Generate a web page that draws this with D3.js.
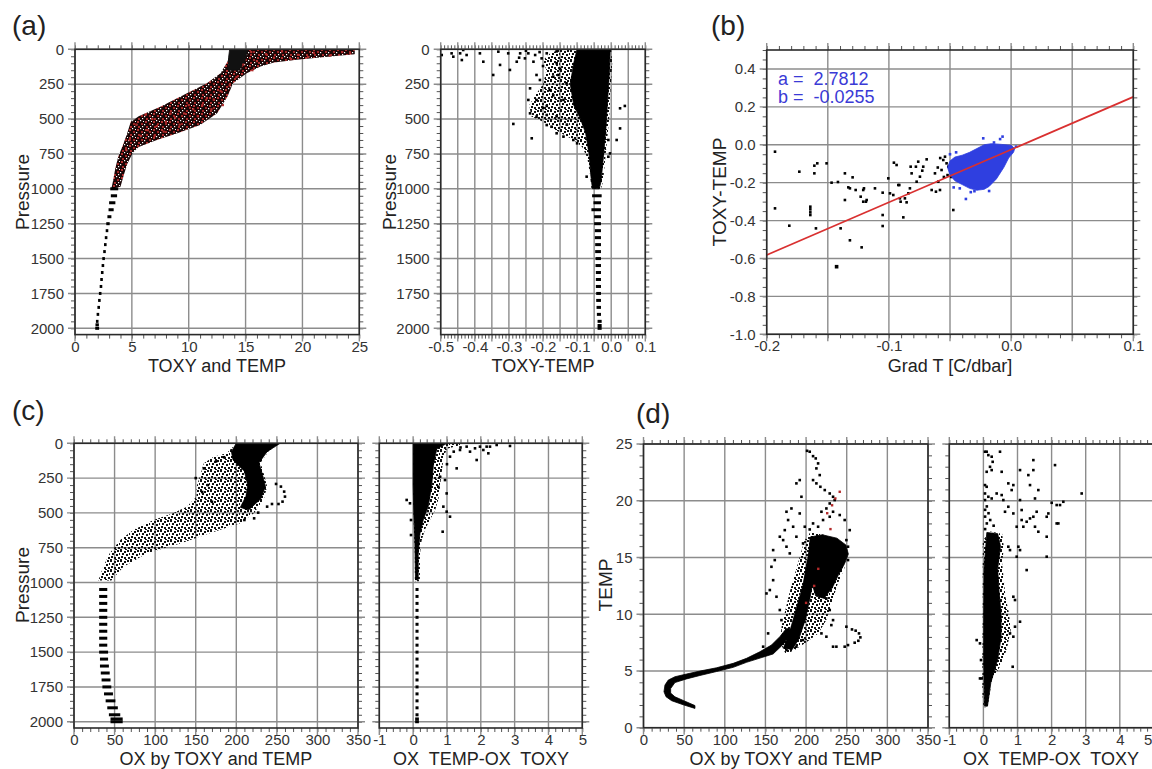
<!DOCTYPE html>
<html><head><meta charset="utf-8">
<script src="https://cdn.jsdelivr.net/npm/d3@7"></script>
<style>
body{margin:0;background:#fff;}
svg text{font-family:"Liberation Sans",Arial,sans-serif;}
</style></head><body>
<script>
// ---------------- tick labels ----------------
const pressureTickValues = [0,250,500,750,1000,1250,1500,1750,2000];
const pressureTickLabels = ["0","250","500","750","1000","1250","1500","1750","2000"];
const toxyTempTickValues = [0,5,10,15,20,25];
const toxyTempTickLabels = ["0","5","10","15","20","25"];
const diffTickValues = [-0.5,-0.4,-0.3,-0.2,-0.1,0,0.1];
const diffTickLabels = ["-0.5","-0.4","-0.3","-0.2","-0.1","0.0","0.1"];
const gradTickValues = [-0.2,-0.1,0,0.1];
const gradTickLabels = ["-0.2","-0.1","0.0","0.1"];
const bYTickValues = [0.4,0.2,0,-0.2,-0.4,-0.6,-0.8,-1.0];
const bYTickLabels = ["0.4","0.2","0.0","-0.2","-0.4","-0.6","-0.8","-1.0"];
const oxTickValues = [0,50,100,150,200,250,300,350];
const oxTickLabels = ["0","50","100","150","200","250","300","350"];
const ratioTickValues = [-1,0,1,2,3,4,5];
const ratioTickLabels = ["-1","0","1","2","3","4","5"];
const tempTickValues = [0,5,10,15,20,25];
const tempTickLabels = ["0","5","10","15","20","25"];

// ---------------- (a) left: TOXY and TEMP vs Pressure ----------------
const aLeftDeep = [[1000,3.1,3.8],[1050,3.15,3.7],[1100,3.0,3.55],[1150,2.95,3.4],[1200,2.85,3.2],[1250,2.75,3.05],[1300,2.7,2.9],[1350,2.62,2.74],[1400,2.55,2.67],[1450,2.48,2.6],[1500,2.4,2.52],[1550,2.34,2.46],[1600,2.28,2.4],[1650,2.22,2.34],[1700,2.17,2.29],[1750,2.1,2.22],[1800,2.03,2.15],[1850,1.97,2.09],[1900,1.9,2.02],[1950,1.84,1.96],[1975,1.8,2.1],[2000,1.78,2.12]];
const aLeftCloud = [[13.6,0],[24.6,0],[24.6,35],[22,55],[19.5,75],[17.5,95],[16.3,124],[15.1,172],[13.9,244],[13.4,340],[12.5,459],[11.0,543],[9.0,602],[7.2,650],[5.6,700],[5.1,740],[4.6,820],[4.3,900],[4.0,985],[3.2,1000],[3.35,940],[3.55,850],[3.8,770],[4.2,690],[4.6,600],[4.9,520],[5.6,480],[7.5,411],[9.8,316],[11.6,244],[12.8,172],[13.4,90],[13.6,40]];
const aLeftCore = [[13.6,0],[15.2,0],[14.9,100],[14.4,150],[13.5,150],[13.5,60]];
const aLeftRed = [[15.5,20],[16.8,35],[18.2,15],[19.6,40],[21,25],[22.4,45],[23.5,20],[24.2,30],[17.5,60],[19,70],[20.5,55],[16,85],[14.8,110],[15.6,150],[14.2,200],[13.6,260],[12.8,300],[12.2,360],[11.2,400],[10.4,430],[9.6,460],[8.8,490],[8.0,520],[7.2,550],[6.4,580],[5.8,620],[6.8,500],[8.4,460],[10.0,400],[11.6,350],[9.2,540],[7.8,590],[6.2,470],[5.4,540],[4.8,650],[4.5,720],[10.8,480],[12.0,430],[13.0,400],[7.0,620]];

// ---------------- (a) right: TOXY-TEMP vs Pressure ----------------
const aRightOuter = [[-0.18,30],[-0.15,0],[0.0,0],[0.003,100],[-0.002,300],[-0.006,500],[-0.012,650],[-0.018,800],[-0.024,950],[-0.03,1000],[-0.058,1000],[-0.062,900],[-0.07,780],[-0.085,700],[-0.11,650],[-0.14,610],[-0.17,570],[-0.2,520],[-0.235,480],[-0.24,400],[-0.22,320],[-0.2,250],[-0.19,150],[-0.2,80]];
const aRightCore = [[-0.1,0],[-0.003,0],[-0.005,150],[-0.01,350],[-0.015,550],[-0.022,750],[-0.03,950],[-0.035,1000],[-0.055,1000],[-0.06,900],[-0.065,750],[-0.075,600],[-0.09,500],[-0.11,400],[-0.12,250],[-0.11,100]];
const aRightDeep = [[1050,-0.056,-0.028],[1100,-0.052,-0.03],[1150,-0.058,-0.03],[1200,-0.05,-0.03],[1250,-0.05,-0.03],[1300,-0.048,-0.03],[1350,-0.048,-0.03],[1400,-0.047,-0.03],[1450,-0.047,-0.03],[1500,-0.046,-0.03],[1550,-0.046,-0.03],[1600,-0.045,-0.03],[1650,-0.045,-0.03],[1700,-0.045,-0.03],[1750,-0.044,-0.03],[1800,-0.044,-0.03],[1850,-0.043,-0.03],[1900,-0.042,-0.03],[1950,-0.04,-0.028],[1980,-0.04,-0.028],[2000,-0.04,-0.028]];
const aRightPts = [[-0.497,41],[-0.468,29],[-0.463,53],[-0.443,29],[-0.438,77],[-0.434,5],[-0.424,41],[-0.385,29],[-0.375,89],[-0.346,184],[-0.331,17],[-0.326,112],[-0.302,29],[-0.297,148],[-0.277,89],[-0.267,29],[-0.253,65],[-0.243,29],[-0.228,89],[-0.223,41],[-0.204,65],[-0.189,29],[-0.219,184],[-0.209,220],[-0.238,280],[-0.243,363],[-0.238,459],[-0.219,483],[-0.189,406],[-0.189,471],[-0.175,555],[-0.16,602],[-0.14,626],[-0.111,650],[-0.18,292],[-0.17,196],[-0.155,184],[-0.131,244],[-0.14,363],[-0.219,363],[-0.287,535],[-0.233,638],[-0.189,543],[-0.1,674],[-0.072,913],[-0.0084,770],[-0.0035,746],[0.016,650],[0.026,567],[0.026,423],[0.04,406],[-0.0084,650],[-0.018,602],[-0.16,100],[-0.15,140],[-0.2,120],[-0.17,330],[-0.2,420],[-0.16,480],[-0.13,540],[-0.25,10],[-0.27,60],[-0.21,20],[-0.16,15]];

// ---------------- (b): Grad T vs TOXY-TEMP ----------------
const fitA = 2.7812, fitB = -0.0255;
const fitLineX = [-0.2, 0.1];
const bBlackPts = [[-0.1932,-0.0365],[-0.1932,-0.3355],[-0.1815,-0.427],[-0.1733,-0.142],[-0.161,-0.1508],[-0.161,-0.1103],[-0.1586,-0.098],[-0.151,-0.098],[-0.1643,-0.3267],[-0.1643,-0.3408],[-0.1643,-0.3566],[-0.1643,-0.3707],[-0.1597,-0.441],[-0.1469,-0.2],[-0.1417,-0.1965],[-0.136,-0.1508],[-0.1395,-0.441],[-0.136,-0.2915],[-0.1319,-0.5041],[-0.1332,-0.2247],[-0.1297,-0.1719],[-0.1319,-0.2299],[-0.1223,-0.5413],[-0.1272,-0.2387],[-0.1231,-0.2739],[-0.121,-0.3003],[-0.1188,-0.3003],[-0.121,-0.2387],[-0.1182,-0.2915],[-0.1204,-0.2299],[-0.1114,-0.2299],[-0.1005,-0.1772],[-0.1051,-0.2528],[-0.1051,-0.3707],[-0.1051,-0.4287],[-0.0991,-0.2563],[-0.0964,-0.2651],[-0.0959,-0.0945],[-0.0937,-0.1068],[-0.0923,-0.2124],[-0.0915,-0.2124],[-0.091,-0.2827],[-0.0904,-0.3003],[-0.0869,-0.2827],[-0.0855,-0.3038],[-0.0882,-0.383],[-0.0841,-0.2563],[-0.0828,-0.2299],[-0.0822,-0.1156],[-0.0814,-0.1508],[-0.0779,-0.1156],[-0.076,-0.0892],[-0.0746,-0.1684],[-0.0773,-0.1948],[-0.0727,-0.1367],[-0.0719,-0.1156],[-0.0691,-0.0769],[-0.0623,-0.1508],[-0.065,-0.2387],[-0.0615,-0.2475],[-0.0582,-0.2387],[-0.0596,-0.1948],[-0.0569,-0.1332],[-0.0555,-0.0804],[-0.0541,-0.0628],[-0.0528,-0.098],[-0.0514,-0.1156],[-0.0487,-0.1332],[-0.0473,-0.3443],[-0.058,-0.07],[-0.052,-0.16],[-0.049,-0.17],[-0.047,-0.09],[-0.055,-0.17],[-0.06,-0.12]];
const bBigPt = [[-0.1428,-0.6433]];
const bBlueCloud = [[0.003,-0.02],[0.0,-0.003],[-0.008,0.002],[-0.016,0.006],[-0.022,0.0],[-0.028,-0.02],[-0.034,-0.04],[-0.040,-0.055],[-0.046,-0.065],[-0.050,-0.085],[-0.052,-0.12],[-0.050,-0.16],[-0.046,-0.19],[-0.040,-0.21],[-0.034,-0.23],[-0.028,-0.24],[-0.022,-0.235],[-0.018,-0.22],[-0.012,-0.18],[-0.006,-0.12],[-0.002,-0.07],[0.002,-0.04]];
const bBluePts = [[-0.0228,0.034],[-0.007,0.043],[-0.009,0.03],[-0.037,-0.286],[-0.018,-0.244],[-0.033,-0.25],[-0.047,-0.225],[-0.03,-0.245],[-0.042,-0.23],[-0.05,-0.05],[-0.045,-0.04],[-0.014,0.012],[0.004,-0.01]];

// ---------------- (c) left: OX by TOXY and TEMP vs Pressure ----------------
const cLeftDeep = [[1050,31,41],[1100,31,41],[1150,31,41],[1200,31,41],[1250,31,41],[1300,31,41],[1350,31,41],[1400,31,41],[1450,31,41],[1500,31,42],[1550,32,42],[1600,32,43],[1650,33,44],[1700,34,45],[1750,35,46],[1800,37,48],[1850,39,51],[1900,41,54],[1950,43,57],[1980,45,60],[2000,45,60]];
const cLeftOuter = [[198,0],[254,0],[240,55],[230,140],[234,220],[238,310],[234,400],[222,500],[205,575],[170,640],[131,719],[90,790],[61,886],[46,985],[30,985],[36,886],[44,790],[57,695],[73,623],[98,551],[122,503],[139,455],[151,383],[151,312],[155,240],[160,144],[172,96],[188,72],[196,24]];
const cLeftCore = [[200,0],[254,0],[238,60],[228,140],[232,220],[236,310],[230,400],[215,480],[205,460],[212,380],[214,300],[210,200],[196,120],[194,60]];
const cLeftPts = [[249,292],[255,311],[259,347],[260,383],[257,419],[252,436],[238,455],[244,436],[227,498],[222,539],[210,551],[165,300],[158,350],[170,420],[150,250],[160,180],[175,130],[185,100]];

// ---------------- (c) right: OX TEMP - OX TOXY vs Pressure ----------------
const cRightOuter = [[0.0,0],[1.5,0],[1.3,20],[1.0,40],[0.9,100],[0.85,200],[0.8,300],[0.75,400],[0.65,480],[0.5,550],[0.35,620],[0.25,700],[0.2,800],[0.2,900],[0.2,990],[0.05,990],[0.05,800],[0.02,600],[0.0,400]];
const cRightCore = [[0,0],[1.0,0],[0.7,40],[0.6,150],[0.55,300],[0.45,450],[0.3,550],[0.2,650],[0.15,800],[0.15,980],[0.07,980],[0.05,700],[0.02,500],[0,300]];
const cRightDeep = [[1050,0.07,0.16],[1100,0.07,0.16],[1150,0.07,0.16],[1200,0.07,0.16],[1250,0.07,0.16],[1300,0.07,0.16],[1350,0.07,0.16],[1400,0.07,0.16],[1450,0.07,0.16],[1500,0.07,0.16],[1550,0.07,0.16],[1600,0.07,0.16],[1650,0.07,0.16],[1700,0.07,0.16],[1750,0.07,0.16],[1800,0.07,0.16],[1850,0.07,0.16],[1900,0.07,0.16],[1950,0.07,0.16],[1980,0.06,0.17],[2000,0.06,0.17]];
const cRightPts = [[1.385,48],[1.582,24],[1.681,60],[1.829,36],[1.976,24],[2.075,48],[2.173,24],[2.223,72],[2.272,24],[2.469,12],[2.863,19],[1.878,120],[1.287,180],[1.09,96],[0.942,264],[0.991,360],[0.893,455],[0.991,491],[1.09,527],[0.873,635],[-0.191,407],[-0.093,431],[-0.063,551],[-0.063,659],[0.745,312],[0.794,240],[1.2,60],[1.4,30],[1.0,150]];

// ---------------- (d) left: OX by TOXY and TEMP vs TEMP ----------------
const dLeftSpine = [[175.9,8.75],[167.7,8.02],[157.4,7.28],[143.1,6.69],[126.7,6.11],[110.4,5.67],[89.9,5.28],[69.4,4.99],[53.0,4.73],[38.7,4.49],[30.5,4.2],[26.4,3.76],[25.2,3.17],[27.7,2.73],[34.6,2.38],[48.9,2.02],[63.3,1.7],[63.3,1.95],[48.9,2.4],[38.7,2.72],[33.4,3.05],[33.4,3.45],[38.7,3.98],[53.0,4.3],[69.4,4.6],[89.9,4.95],[110.4,5.32],[126.7,5.76],[159.5,6.5],[169.7,7.2],[177.9,7.95],[184.0,8.6]];
const dLeftOuter = [[168,7.5],[170,9],[175,10.5],[180,12],[186,13.5],[192,15],[198,16.5],[205,17.2],[222,17.0],[240,16.3],[250,15.6],[247,14],[238,12.5],[232,11],[225,9.5],[215,8.3],[200,7.5],[185,6.8],[175,6.5]];
const dLeftBand = [[172,7.0],[180,8.5],[188,10.5],[196,12.5],[201,14.5],[205,16.0],[212,15.5],[210,13.5],[205,11.5],[199,9.5],[191,7.8],[183,6.9]];
const dLeftBlob = [[205,16.8],[220,17.0],[238,16.7],[249,16.1],[252,15.3],[247,14.4],[240,13.5],[232,12.3],[222,11.4],[212,11.6],[206,13.0],[203,15.0]];
const dLeftPts = [[201.2,24.4],[204.5,24.32],[208.6,23.93],[211.9,23.73],[214.8,23.29],[212.7,22.85],[216.8,22.26],[208.6,21.82],[212.7,21.53],[217.6,21.23],[223.0,20.94],[229.1,20.64],[233.2,20.35],[235.2,20.06],[229.1,19.76],[225.0,19.32],[218.9,19.03],[233.2,19.03],[241.4,18.74],[229.1,18.59],[220.9,18.3],[208.6,18.0],[214.8,17.71],[204.5,17.47],[198.4,17.71],[192.2,21.82],[188.1,21.53],[194.3,20.35],[192.2,18.88],[182.0,19.32],[175.9,19.03],[177.9,18.3],[184.1,17.71],[173.8,17.41],[167.7,16.83],[171.8,16.53],[175.9,15.95],[179.96,15.36],[188.1,16.83],[196.3,16.24],[159.5,15.65],[161.5,14.77],[157.4,14.18],[159.5,13.0],[155.4,12.13],[163.6,11.54],[151.3,11.83],[167.7,10.37],[169.7,9.48],[153.3,8.31],[147.2,7.14],[159.5,6.84],[167.7,7.28],[175.9,6.84],[188.1,7.14],[196.3,7.72],[225.0,11.39],[229.1,10.37],[233.2,9.48],[231.1,9.04],[218.9,8.31],[225.0,8.02],[233.2,7.14],[237.3,7.14],[247.5,7.14],[251.6,7.28],[249.6,8.9],[249.6,16.53],[251.6,15.95],[253.7,17.41],[247.5,18.3],[251.6,14.77],[256.5,8.66],[261.0,8.55],[265.1,8.31],[266.8,7.96],[264.3,7.66],[259.8,7.49]];
const dLeftRed = [[241.4,20.79],[232,19.6],[226,18.9],[236,20.2],[210,12.5],[200,11],[215,14],[230,17.5]];

// ---------------- (d) right: OX TEMP - OX TOXY vs TEMP ----------------
const dRightOuter = [[0.0,1.8],[0.12,1.8],[0.25,4.2],[0.55,5.7],[0.7,7.1],[0.8,8.6],[0.75,10.1],[0.65,11.5],[0.6,13],[0.55,14.5],[0.6,15.9],[0.55,17.1],[0.2,17.3],[-0.02,16.5],[-0.02,14],[-0.02,10],[-0.03,6],[-0.03,3]];
const dRightCore = [[0.03,1.9],[0.12,1.9],[0.22,4],[0.42,6],[0.52,8],[0.52,10],[0.46,12],[0.42,14],[0.5,16],[0.42,17.1],[0.1,17.2],[0.02,14],[0.01,10],[0.01,6]];
const dRightPts = [[0.047,24.32],[0.096,24.32],[0.145,24.02],[0.243,23.88],[0.272,23.43],[0.194,22.99],[0.243,22.7],[0.096,22.55],[0.487,24.32],[0.536,22.55],[0.047,21.38],[0.096,21.23],[0.047,20.64],[0.145,20.35],[0.047,20.06],[0.243,20.2],[0.389,20.64],[0.536,20.5],[0.585,20.06],[0.731,21.53],[0.878,21.38],[0.829,20.94],[0.731,19.47],[0.634,19.03],[0.878,18.88],[1.074,22.7],[1.318,22.26],[1.367,21.38],[1.465,22.7],[1.611,20.94],[1.513,20.2],[1.562,19.03],[1.465,18.59],[1.513,17.71],[1.611,17.27],[1.122,18.3],[1.269,18.15],[1.171,17.71],[0.976,17.71],[1.074,20.06],[1.122,19.18],[1.367,18.44],[1.856,18.59],[1.905,18.88],[2.002,19.82],[2.149,19.62],[2.247,19.62],[2.344,19.91],[2.198,18.0],[2.149,18.0],[1.856,16.83],[1.856,15.07],[1.269,13.89],[1.025,15.95],[1.074,15.65],[0.976,15.07],[1.465,23.58],[2.1,23.14],[2.882,20.64],[0.731,15.95],[0.78,15.65],[0.878,11.54],[0.927,11.25],[1.074,9.34],[0.878,8.02],[0.927,8.9],[0.78,8.31],[-0.197,7.72],[-0.1,7.43],[-0.07,5.96],[-0.1,4.34],[-0.051,4.34],[0.859,5.37],[0.1,19.5],[0.05,19.2],[0.15,18.9],[0.05,18.6],[0.2,18.3],[0.1,18.0],[0.3,17.8],[0.05,17.5]];

// ================= drawing =================
const svg = d3.select('body').append('svg').attr('width',1152).attr('height',769);
const defs = svg.append('defs');
function makePattern(id, size, cells, bg){
  const p = defs.append('pattern').attr('id',id).attr('width',size).attr('height',size).attr('patternUnits','userSpaceOnUse');
  if (bg) p.append('rect').attr('width',size).attr('height',size).attr('fill',bg);
  cells.forEach(c => p.append('rect').attr('x',c[0]).attr('y',c[1]).attr('width',c[3]||2).attr('height',c[3]||2).attr('fill',c[2]||'#111'));
}
// textures (styling only)
makePattern('speck', 10, [[0,0],[4,1],[7,0],[2,3],[6,4],[9,3],[1,6],[4,7],[8,7],[0,9],[5,9]]);
makePattern('mix', 8, [[1,1,'#b03030'],[5,3,'#9c2424'],[2,6,'#a82a2a'],[4,0,'#fff',1.2],[0,4,'#fff',1.2],[6,6,'#fff',1.2],[7,1,'#fff',1]], '#1a0505');

const GRID = '#8c8c8c', FRAME = '#2a2a2a', LABEL = '#333';

function panel(o){
  const x = d3.scaleLinear().domain(o.xd).range([o.L,o.R]);
  const y = d3.scaleLinear().domain(o.yd).range([o.B,o.T]);
  const g = svg.append('g');
  const ext = 7;
  const styleTicks = s => { s.select('.domain').remove(); s.selectAll('line').attr('stroke','#555').attr('stroke-width',1); };
  g.append('g').attr('transform',`translate(0,${o.T})`).call(d3.axisTop(x).tickValues(o.xMinor).tickSize(4).tickFormat('')).call(styleTicks);
  g.append('g').attr('transform',`translate(0,${o.B})`).call(d3.axisBottom(x).tickValues(o.xMinor).tickSize(4).tickFormat('')).call(styleTicks);
  g.append('g').attr('transform',`translate(${o.L},0)`).call(d3.axisLeft(y).tickValues(o.yMinor).tickSize(4).tickFormat('')).call(styleTicks);
  g.append('g').attr('transform',`translate(${o.R},0)`).call(d3.axisRight(y).tickValues(o.yMinor).tickSize(4).tickFormat('')).call(styleTicks);
  g.append('g').selectAll('line').data(o.xGrid).join('line')
    .attr('x1',d=>x(d)).attr('x2',d=>x(d)).attr('y1',o.T-ext).attr('y2',o.B+ext)
    .attr('stroke',GRID).attr('stroke-width',1.4);
  g.append('g').selectAll('line').data(o.yGrid).join('line')
    .attr('y1',d=>y(d)).attr('y2',d=>y(d)).attr('x1',o.L-ext).attr('x2',o.R+ext)
    .attr('stroke',GRID).attr('stroke-width',1.4);
  const styleLab = s => { s.select('.domain').remove(); s.attr('font-size',15).attr('font-family','"Liberation Sans",Arial,sans-serif'); s.selectAll('text').attr('fill',LABEL); };
  let xl = null;
  if (o.xLab) xl = g.append('g').attr('transform',`translate(0,${o.B})`)
      .call(d3.axisBottom(x).tickValues(o.xLab).tickFormat((d,i)=>o.xLabText[i]).tickSize(0).tickPadding(6.5)).call(styleLab);
  if (o.yLab) g.append('g').attr('transform',`translate(${o.L},0)`)
      .call(d3.axisLeft(y).tickValues(o.yLab).tickFormat((d,i)=>o.yLabText[i]).tickSize(0).tickPadding(11)).call(styleLab);
  if (xl && o.R > 1150) xl.selectAll('.tick').filter(d=>x(d)>1148).select('text').attr('text-anchor','end').attr('x',-2);
  const cid = 'clip'+o.id;
  defs.append('clipPath').attr('id',cid).append('rect').attr('x',o.L).attr('y',o.T).attr('width',o.R-o.L).attr('height',o.B-o.T);
  const data = g.append('g').attr('clip-path',`url(#${cid})`);
  const frame = () => g.append('rect').attr('x',o.L).attr('y',o.T).attr('width',o.R-o.L).attr('height',o.B-o.T)
      .attr('fill','none').attr('stroke',FRAME).attr('stroke-width',1.6);
  return {x,y,data,frame};
}

function poly(P, pts, fill){
  const isPat = fill.startsWith('url');
  P.data.append('path').datum(pts)
    .attr('d', d3.line().x(d=>P.x(d[0])).y(d=>P.y(d[1])).curve(d3.curveLinearClosed))
    .attr('fill',fill).attr('stroke',isPat?'none':fill).attr('stroke-width',0.8);
}
function dots(P, pts, color, s){
  s = s||2.6;
  P.data.append('g').selectAll('rect').data(pts).join('rect')
    .attr('x',d=>P.x(d[0])-s/2).attr('y',d=>P.y(d[1])-s/2).attr('width',s).attr('height',s).attr('fill',color);
}
function dashes(P, rows, color){
  P.data.append('g').selectAll('rect').data(rows).join('rect')
    .attr('x',d=>P.x(d[1])).attr('y',d=>P.y(d[0])-1.5)
    .attr('width',d=>Math.max(2.6,P.x(d[2])-P.x(d[1]))).attr('height',3).attr('fill',color);
}
function text(str, x, y, size, opts){
  opts = opts||{};
  const t = svg.append('text').attr('x',x).attr('y',y).attr('font-size',size)
    .attr('fill',opts.fill||'#222').attr('text-anchor',opts.anchor||'start')
    .style('white-space','pre').text(str);
  if (opts.rot) t.attr('transform',`rotate(-90,${x},${y})`);
  return t;
}

const pMinor = d3.range(0,2046,50);

// (a) left
const A1 = panel({id:'a1',L:75,R:359.3,T:49.3,B:334.6,xd:[0,25],yd:[2045,0],
  xGrid:d3.range(0,25.01,5),xMinor:d3.range(0,25.01,1),yGrid:pressureTickValues,yMinor:pMinor,
  xLab:toxyTempTickValues,xLabText:toxyTempTickLabels,yLab:pressureTickValues,yLabText:pressureTickLabels});
poly(A1, aLeftCloud, 'url(#mix)');
poly(A1, aLeftCore, '#111');
dots(A1, aLeftRed, '#b32a2a', 2.2);
dashes(A1, aLeftDeep, '#000');
A1.frame();

// (a) right
const A2 = panel({id:'a2',L:440.7,R:645.3,T:49.3,B:334.6,xd:[-0.5,0.1],yd:[2045,0],
  xGrid:d3.range(-0.5,0.1001,0.05),xMinor:d3.range(-0.5,0.1001,0.01),yGrid:pressureTickValues,yMinor:pMinor,
  xLab:diffTickValues,xLabText:diffTickLabels,yLab:pressureTickValues,yLabText:pressureTickLabels});
poly(A2, aRightOuter, 'url(#speck)');
poly(A2, aRightCore, '#000');
dashes(A2, aRightDeep, '#000');
dots(A2, aRightPts, '#000');
A2.frame();

// (b)
const Bp = panel({id:'b',L:766.7,R:1133.3,T:50,B:334.3,xd:[-0.2,0.1],yd:[-1.0,0.5],
  xGrid:d3.range(-0.2,0.1001,0.05),xMinor:d3.range(-0.2,0.1001,0.01),yGrid:d3.range(-1.0,0.41,0.2),yMinor:d3.range(-1.0,0.501,0.05),
  xLab:gradTickValues,xLabText:gradTickLabels,yLab:bYTickValues,yLabText:bYTickLabels});
dots(Bp, bBlackPts, '#000', 2.6);
dots(Bp, bBigPt, '#000', 3.6);
poly(Bp, bBlueCloud, '#2f3fe0');
dots(Bp, bBluePts, '#2f3fe0', 2.6);
Bp.data.append('line')
  .attr('x1',Bp.x(fitLineX[0])).attr('y1',Bp.y(fitA*fitLineX[0]+fitB))
  .attr('x2',Bp.x(fitLineX[1])).attr('y2',Bp.y(fitA*fitLineX[1]+fitB))
  .attr('stroke','#d93030').attr('stroke-width',1.8);
Bp.frame();
text('a =  '+fitA.toFixed(4), 778, 85, 18, {fill:'#3a3ad6'});
text('b =  '+fitB.toFixed(4), 778, 103, 18, {fill:'#3a3ad6'});

// (c) left
const C1 = panel({id:'c1',L:74,R:358,T:443.3,B:728,xd:[0,350],yd:[2045,0],
  xGrid:oxTickValues,xMinor:d3.range(0,350.1,10),yGrid:pressureTickValues,yMinor:pMinor,
  xLab:oxTickValues,xLabText:oxTickLabels,yLab:pressureTickValues,yLabText:pressureTickLabels});
poly(C1, cLeftOuter, 'url(#speck)');
poly(C1, cLeftCore, '#000');
dashes(C1, cLeftDeep, '#000');
dots(C1, cLeftPts, '#000');
C1.frame();

// (c) right
const C2 = panel({id:'c2',L:379.3,R:582.3,T:443.3,B:728,xd:[-1,5],yd:[2045,0],
  xGrid:ratioTickValues,xMinor:d3.range(-1,5.01,0.2),yGrid:pressureTickValues,yMinor:pMinor,
  xLab:ratioTickValues,xLabText:ratioTickLabels});
poly(C2, cRightOuter, 'url(#speck)');
poly(C2, cRightCore, '#000');
dashes(C2, cRightDeep, '#000');
dots(C2, cRightPts, '#000');
C2.frame();

// (d) left
const D1 = panel({id:'d1',L:643.5,R:928,T:444,B:727.7,xd:[0,350],yd:[0,25],
  xGrid:oxTickValues,xMinor:d3.range(0,350.1,10),yGrid:tempTickValues,yMinor:d3.range(0,25.01,1),
  xLab:oxTickValues,xLabText:oxTickLabels,yLab:tempTickValues,yLabText:tempTickLabels});
poly(D1, dLeftOuter, 'url(#speck)');
poly(D1, dLeftBand, '#000');
poly(D1, dLeftBlob, '#000');
poly(D1, dLeftSpine, '#000');
dots(D1, dLeftPts, '#000');
dots(D1, dLeftRed, '#b32a2a', 2.4);
D1.frame();

// (d) right
const D2 = panel({id:'d2',L:949.3,R:1153.9,T:444,B:727.7,xd:[-1,5],yd:[0,25],
  xGrid:ratioTickValues,xMinor:d3.range(-1,5.01,0.2),yGrid:tempTickValues,yMinor:d3.range(0,25.01,1),
  xLab:ratioTickValues,xLabText:ratioTickLabels});
poly(D2, dRightOuter, 'url(#speck)');
poly(D2, dRightCore, '#000');
dots(D2, dRightPts, '#000');
D2.frame();

// ---- titles ----
text('(a)', 12, 35, 28);
text('(b)', 711, 35, 28);
text('(c)', 12, 420, 28);
text('(d)', 636, 423, 28);
text('TOXY and TEMP', 217, 372, 18, {anchor:'middle'});
text('TOXY-TEMP', 543, 372, 18, {anchor:'middle'});
text('Grad T [C/dbar]', 950, 372, 18, {anchor:'middle'});
text('OX by TOXY and TEMP', 216, 765, 18, {anchor:'middle'});
text('OX  TEMP-OX  TOXY', 481, 765, 18, {anchor:'middle'});
text('OX by TOXY and TEMP', 786, 765, 18, {anchor:'middle'});
text('OX  TEMP-OX  TOXY', 1051, 765, 18, {anchor:'middle'});
text('Pressure', 29, 192, 19, {anchor:'middle', rot:true});
text('Pressure', 396, 192, 19, {anchor:'middle', rot:true});
text('TOXY-TEMP', 726, 192, 19, {anchor:'middle', rot:true});
text('Pressure', 29, 585, 19, {anchor:'middle', rot:true});
text('TEMP', 612, 585, 19, {anchor:'middle', rot:true});
</script>
</body></html>
